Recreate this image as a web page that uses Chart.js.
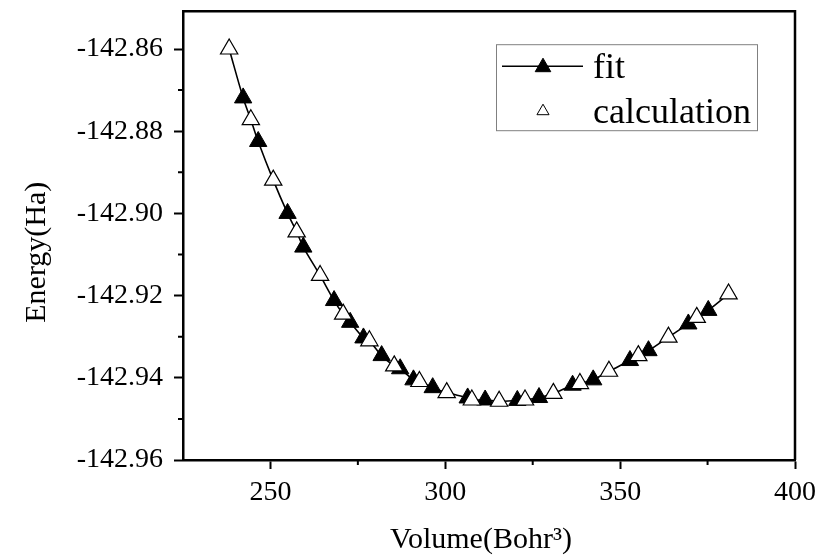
<!DOCTYPE html>
<html>
<head>
<meta charset="utf-8">
<script src="https://cdn.jsdelivr.net/npm/chart.js@4/dist/chart.umd.min.js"></script>
<style>
  html, body { margin: 0; padding: 0; background: #fff; }
  #wrap { width: 831px; height: 557px; position: relative; }
</style>
</head>
<body>
<div id="wrap"><canvas id="c" width="831" height="557"></canvas></div>
<script>
// ---- data ----
const calcVolume = [238.2, 244.4, 250.8, 257.5, 264.2, 270.8, 278.3, 285.4, 292.6, 300.4,
                    307.6, 315.4, 322.8, 330.9, 338.5, 346.8, 355.2, 363.8, 371.9, 381.0];
const calcEnergy = [-142.8600, -142.8772, -142.8919, -142.9045, -142.9151, -142.9245, -142.9310, -142.9371,
                    -142.9409, -142.9436, -142.9454, -142.9457, -142.9454, -142.9438, -142.9414, -142.9384,
                    -142.9346, -142.9301, -142.9253, -142.9196];
const fitVolume = [242.2, 246.5, 254.9, 259.4, 268.2, 272.8, 276.6, 281.8, 287.1, 290.9,
                   296.4, 306.4, 311.4, 320.6, 326.8, 336.4, 342.3, 352.8, 358.1, 369.5, 375.2];
const fitEnergy = [-142.8719, -142.8825, -142.9000, -142.9082, -142.9212, -142.9265, -142.9303, -142.9346,
                   -142.9378, -142.9405, -142.9424, -142.9449, -142.9454, -142.9455, -142.9448, -142.9418,
                   -142.9405, -142.9358, -142.9334, -142.9269, -142.9236];
const xMajorTicks = [250, 300, 350, 400];
const xMinorTicks = [275, 325, 375];
const yMajorTicks = [-142.96, -142.94, -142.92, -142.90, -142.88, -142.86];
const yMinorTicks = [-142.95, -142.93, -142.91, -142.89, -142.87];
const xTitle = 'Volume(Bohr\u00B3)';
const yTitle = 'Energy(Ha)';
const seriesNames = ['fit', 'calculation'];

// ---- build datasets ----
const calcPts = calcVolume.map((v, i) => ({x: v, y: calcEnergy[i]}));
const fitPts = fitVolume.map((v, i) => ({x: v, y: fitEnergy[i]}));
const curvePts = calcPts.concat(fitPts).sort((a, b) => a.x - b.x);

const FONT = "'Liberation Serif', 'Times New Roman', serif";
const FRAME_W = 2.5;

const extrasPlugin = {
  id: 'extras',
  afterDraw(chart) {
    const ctx = chart.ctx;
    const ca = chart.chartArea;
    const xs = chart.scales.x, ys = chart.scales.y;
    ctx.save();
    // frame top/right
    ctx.strokeStyle = '#000';
    ctx.lineWidth = FRAME_W;
    ctx.beginPath();
    ctx.moveTo(ca.left, ca.top);
    ctx.lineTo(ca.right, ca.top);
    ctx.lineTo(ca.right, ca.bottom);
    ctx.stroke();
    // minor ticks
    ctx.lineWidth = 2;
    ctx.beginPath();
    xMinorTicks.forEach(v => {
      const px = xs.getPixelForValue(v);
      ctx.moveTo(px, ca.bottom);
      ctx.lineTo(px, ca.bottom + 5);
    });
    yMinorTicks.forEach(v => {
      const py = ys.getPixelForValue(v);
      ctx.moveTo(ca.left, py);
      ctx.lineTo(ca.left - 5, py);
    });
    ctx.stroke();

    // axis titles
    ctx.fillStyle = '#000';
    ctx.font = '30px ' + FONT;
    ctx.textAlign = 'center';
    ctx.textBaseline = 'middle';
    ctx.fillText(xTitle, ca.left + 298, ca.bottom + 80);
    ctx.save();
    ctx.translate(ca.left - 146, ca.top + 241);
    ctx.rotate(-Math.PI / 2);
    ctx.fillText(yTitle, 0, 0);
    ctx.restore();

    // legend
    const bx = ca.left + 313, by = ca.top + 33, bw = 261, bh = 86;
    ctx.strokeStyle = '#808080';
    ctx.lineWidth = 1;
    ctx.strokeRect(bx + 0.5, by + 0.5, bw, bh);
    const row1 = by + 22, row2 = by + 67;
    ctx.strokeStyle = '#000';
    ctx.lineWidth = 1.5;
    ctx.beginPath();
    ctx.moveTo(bx + 6, row1);
    ctx.lineTo(bx + 87, row1);
    ctx.stroke();
    function tri(cx, cy, r, fill, lw) {
      ctx.beginPath();
      for (let k = 0; k < 3; k++) {
        const a = k * 2 * Math.PI / 3;
        const px = cx + Math.sin(a) * r, py = cy - Math.cos(a) * r;
        if (k === 0) ctx.moveTo(px, py); else ctx.lineTo(px, py);
      }
      ctx.closePath();
      ctx.fillStyle = fill;
      ctx.fill();
      ctx.strokeStyle = '#000';
      ctx.lineWidth = lw;
      ctx.stroke();
    }
    tri(bx + 47, row1 + 1, 9, '#000', 1);
    tri(bx + 47, row2, 7, '#fff', 1);
    ctx.fillStyle = '#000';
    ctx.font = '36px ' + FONT;
    ctx.textAlign = 'left';
    ctx.textBaseline = 'alphabetic';
    ctx.fillText(seriesNames[0], bx + 97, row1 + 12);
    ctx.fillText(seriesNames[1], bx + 97, row2 + 12);
    ctx.restore();
  }
};

new Chart(document.getElementById('c'), {
  type: 'scatter',
  data: {
    datasets: [
      {
        label: seriesNames[1],
        data: calcPts,
        pointStyle: 'triangle',
        pointRadius: 10,
        backgroundColor: '#fff',
        borderColor: '#000',
        borderWidth: 1.2,
        showLine: false,
        order: 0
      },
      {
        label: seriesNames[0],
        data: fitPts,
        pointStyle: 'triangle',
        pointRadius: 10,
        backgroundColor: '#000',
        borderColor: '#000',
        borderWidth: 1,
        showLine: false,
        order: 1
      },
      {
        label: 'curve',
        data: curvePts,
        showLine: true,
        pointRadius: 0,
        borderColor: '#000',
        borderWidth: 1.6,
        tension: 0.3,
        order: 2
      }
    ]
  },
  options: {
    responsive: false,
    animation: false,
    events: [],
    layout: { padding: { top: 10, right: 36, left: 0, bottom: 0 } },
    plugins: { legend: { display: false }, tooltip: { enabled: false } },
    scales: {
      x: {
        type: 'linear',
        min: 225, max: 400,
        afterFit: s => { s.height = 97; s.paddingLeft = 0; s.paddingRight = 0; },
        afterBuildTicks: s => { s.ticks = xMajorTicks.map(v => ({value: v})); },
        ticks: { font: { family: FONT, size: 28 }, color: '#000', padding: 7, maxRotation: 0 },
        grid: { drawOnChartArea: false, drawTicks: true, tickLength: 9, tickColor: '#000', tickWidth: 2 },
        border: { display: true, color: '#000', width: FRAME_W },
        title: { display: false }
      },
      y: {
        type: 'linear',
        min: -142.96, max: -142.8508,
        afterFit: s => { s.width = 183; s.paddingTop = 0; s.paddingBottom = 0; },
        afterBuildTicks: s => { s.ticks = yMajorTicks.map(v => ({value: v})); },
        ticks: { font: { family: FONT, size: 28 }, color: '#000', padding: 11,
                 callback: v => v.toFixed(2) },
        grid: { drawOnChartArea: false, drawTicks: true, tickLength: 9, tickColor: '#000', tickWidth: 2 },
        border: { display: true, color: '#000', width: FRAME_W },
        title: { display: false }
      }
    }
  },
  plugins: [extrasPlugin]
});
</script>
</body>
</html>
